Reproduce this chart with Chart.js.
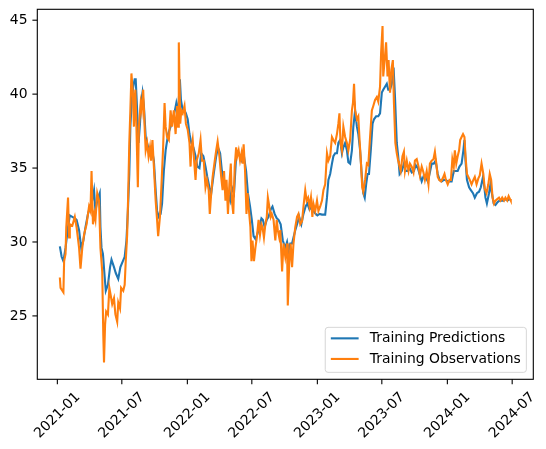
<!DOCTYPE html>
<html><head><meta charset="utf-8">
<script src="https://cdn.jsdelivr.net/npm/chart.js@4.4.0/dist/chart.umd.min.js"></script>
<style>html,body{margin:0;padding:0;background:#fff;} canvas{display:block;}</style>
</head><body>
<canvas id="c" width="546" height="449" style="width:546px;height:449px"></canvas>
<script>
// ---- data ----
const startDate = '2021-01-01';
const seriesLabels = ['Training Predictions', 'Training Observations'];
const xTickLabels = ['2021-01','2021-07','2022-01','2022-07','2023-01','2023-07','2024-01','2024-07'];
const yTickValues = [25, 30, 35, 40, 45];

const predDays = [7,12,17,23,30,35,42,49,54,61,67,73,79,86,92,98,103,107,112,119,121,124,128,133,136,142,148,152,159,164,171,177,184,189,194,198,202,205,209,213,217,220,224,228,232,235,239,243,248,252,257,262,266,271,276,280,285,290,294,299,304,311,318,324,330,334,339,344,347,352,357,361,366,371,376,382,388,393,399,404,410,416,421,427,432,439,446,451,457,462,468,474,479,485,490,496,502,507,513,518,524,530,535,541,546,551,556,561,567,573,577,582,588,593,599,604,610,616,621,627,633,640,645,649,654,659,663,668,673,679,685,691,697,702,708,714,719,725,730,736,743,748,752,757,761,766,771,775,780,785,789,794,799,803,808,813,817,822,827,831,836,841,845,850,855,859,863,867,871,875,880,885,889,895,901,906,911,915,920,925,929,934,939,944,948,953,957,961,967,973,978,984,989,995,1001,1006,1012,1017,1023,1029,1034,1040,1045,1051,1057,1062,1068,1073,1079,1085,1090,1096,1101,1107,1113,1118,1124,1129,1135,1140,1143,1146,1150,1156,1161,1167,1172,1178,1184,1189,1195,1199,1202,1206,1212,1216,1220,1225,1230,1236,1242,1247,1253,1258,1264,1270];
const predValues = [29.7,29.0,28.7,29.6,31.0,31.8,31.7,31.6,31.5,30.8,29.6,30.1,31.0,31.9,32.4,32.8,33.5,32.1,32.8,33.3,31.0,29.6,29.2,27.6,26.7,27.1,28.3,28.8,28.3,27.9,27.5,28.3,28.7,29.0,30.1,32.1,34.6,37.8,39.6,40.5,41.0,41.0,38.9,36.7,38.0,39.4,40.1,39.2,37.1,36.7,36.2,36.4,36.2,35.5,33.5,32.1,31.7,31.9,32.6,34.8,36.2,37.3,37.8,38.3,38.9,39.4,38.7,41.0,39.6,38.9,38.9,38.7,38.3,37.3,36.7,36.4,35.8,35.1,35.0,36.0,35.8,35.1,34.4,33.7,33.3,34.6,35.8,36.4,36.0,34.8,33.9,33.7,33.3,32.8,33.7,33.3,35.8,36.0,35.8,35.5,35.8,34.8,33.3,32.4,31.5,30.4,30.2,30.5,31.0,31.6,31.5,31.0,31.5,31.7,32.2,32.4,31.9,31.6,31.5,31.2,30.1,29.6,30.0,29.4,29.9,29.9,30.3,30.8,31.2,31.7,31.2,31.9,32.4,32.6,32.2,32.4,32.1,31.9,31.8,31.9,31.85,31.85,31.85,33.0,34.2,34.6,35.3,35.8,36.0,36.0,36.7,36.9,36.0,36.4,36.7,36.2,35.4,35.3,36.2,37.8,38.9,37.8,37.3,36.2,34.4,33.3,33.0,33.9,34.6,34.6,36.2,38.0,38.3,38.5,38.5,38.7,40.1,40.3,40.5,40.7,40.3,40.3,40.7,41.8,39.8,36.7,35.8,34.6,34.8,35.3,34.8,34.8,35.0,34.7,34.8,35.2,35.0,34.6,34.1,34.5,34.4,34.1,34.6,35.3,35.3,35.5,34.6,34.2,34.1,34.2,34.2,34.1,34.1,34.1,34.8,34.8,34.8,35.1,35.3,36.2,36.9,35.5,34.2,33.7,33.5,33.3,33.0,33.3,33.4,33.7,34.4,33.7,33.0,32.6,33.3,33.9,33.3,32.6,32.5,32.7,32.8,32.8,32.8,32.9,32.8,32.9];

const obsDays = [7,9,17,19,23,25,30,33,35,42,49,54,61,65,70,75,82,89,93,96,100,104,107,112,117,121,126,129,131,134,137,142,146,149,154,159,163,168,171,176,179,185,189,192,196,199,202,205,208,212,215,217,219,222,226,229,234,237,241,245,248,252,256,260,263,267,271,276,280,283,288,292,297,301,304,308,313,318,322,327,332,336,339,341,345,348,352,357,361,366,371,374,376,380,384,388,391,397,402,406,411,416,420,425,428,432,436,442,446,450,455,460,464,468,472,475,479,483,487,490,494,498,502,505,509,513,517,520,523,527,531,534,537,542,545,548,552,556,560,565,569,573,576,580,584,588,591,595,599,602,607,612,616,619,623,626,631,635,640,645,647,651,655,659,663,668,673,677,682,687,691,696,700,704,708,712,716,719,724,729,733,738,743,747,752,757,761,766,771,775,780,785,789,792,795,799,803,808,813,817,822,827,830,833,836,841,845,848,852,856,859,864,869,873,878,883,887,892,897,901,906,909,913,915,919,923,927,930,934,938,942,945,949,953,957,959,964,969,973,976,981,986,990,995,1000,1004,1009,1014,1018,1023,1028,1032,1037,1042,1046,1051,1056,1060,1064,1068,1072,1077,1082,1087,1091,1096,1101,1105,1109,1113,1116,1120,1124,1128,1131,1135,1139,1143,1146,1150,1154,1158,1163,1168,1172,1177,1182,1186,1191,1196,1200,1205,1210,1214,1218,1222,1226,1230,1235,1240,1244,1249,1254,1258,1263,1267,1271,1273];
const obsValues = [27.6,26.9,26.6,28.7,29.2,31.0,33.0,30.3,31.2,31.1,31.7,31.0,29.6,28.2,29.6,30.5,31.2,32.4,32.1,34.8,31.2,31.9,31.5,33.3,32.8,29.6,28.0,23.7,21.85,24.4,25.3,25.1,26.9,26.5,25.8,26.2,25.1,24.6,25.9,25.5,26.9,26.7,27.1,28.7,30.5,33.3,36.7,38.9,41.4,40.1,37.8,39.6,40.3,37.8,33.7,37.8,39.4,38.9,40.3,37.8,36.2,36.7,35.8,36.4,35.5,36.9,35.1,32.8,31.5,30.4,31.7,33.7,36.4,39.4,37.8,37.1,36.9,38.9,37.8,38.9,37.3,39.2,37.8,43.5,38.0,38.9,38.7,39.2,38.0,37.6,36.7,35.1,36.2,36.9,35.5,34.2,35.5,36.0,36.9,35.5,35.5,33.7,34.2,33.5,31.9,33.3,34.4,35.5,36.2,36.8,35.8,34.4,33.5,34.8,32.8,34.2,31.9,33.9,35.3,32.8,31.9,35.1,36.4,35.8,36.2,35.5,36.0,35.3,36.6,34.8,31.9,33.3,32.4,31.0,28.7,30.1,28.7,29.6,30.3,31.5,30.5,31.2,31.0,30.3,31.2,31.7,33.0,32.4,31.7,31.9,31.5,30.1,31.5,30.8,30.3,30.8,28.0,29.9,29.0,29.9,25.7,28.5,29.9,28.3,29.9,31.0,31.7,31.9,31.2,31.4,32.4,33.5,32.8,33.0,32.4,33.0,31.7,32.6,32.1,32.8,32.1,32.4,32.8,33.5,33.9,36.0,35.5,35.8,37.1,36.9,36.7,37.3,38.0,38.7,36.7,36.2,37.8,37.1,36.7,36.2,36.9,38.9,39.4,40.7,38.9,38.3,38.5,37.1,35.5,33.7,33.4,34.2,35.3,35.2,37.1,38.9,39.2,39.6,39.8,39.5,40.5,42.8,44.6,41.2,42.3,43.5,41.2,42.3,40.1,41.7,42.3,39.4,36.7,36.0,35.5,35.3,34.8,35.8,36.1,34.8,35.5,34.8,35.3,35.1,34.7,35.5,35.6,35.1,34.5,35.1,34.7,34.2,34.8,33.9,35.3,35.5,35.6,36.1,35.3,34.4,34.2,34.1,34.3,34.6,34.2,33.9,34.2,34.2,35.6,35.1,36.2,35.3,35.8,36.2,36.9,37.1,37.3,37.1,35.8,34.6,34.4,34.2,33.9,34.2,34.4,33.9,34.3,34.5,35.3,34.6,33.6,33.3,33.9,34.6,34.2,33.0,32.6,32.8,32.9,33.0,32.8,33.0,32.8,33.0,32.8,33.1,32.9,32.8];

// ---- helpers ----
const DAY = 86400000;
const t0 = Date.parse(startDate + 'T00:00:00Z');
const toX = d => t0 + d * DAY;
const pts = (days, vals) => days.map((d, i) => ({x: toX(d), y: vals[i]}));
const tickTimes = xTickLabels.map(s => Date.parse(s + '-01T00:00:00Z'));

const allDays = predDays.concat(obsDays);
const allVals = predValues.concat(obsValues);
const dMin = Math.min(...allDays), dMax = Math.max(...allDays);
const vMin = Math.min(...allVals), vMax = Math.max(...allVals);
const dPad = (dMax - dMin) * 0.05, vPad = (vMax - vMin) * 0.05;

const FS = 13.9;
const FONT = FS + 'px "DejaVu Sans"';
const BLUE = '#1f77b4', ORANGE = '#ff7f0e';

const decor = {
  id: 'decor',
  afterDraw(chart) {
    const {ctx, chartArea: ca, scales} = chart;
    const xs = scales.x, ys = scales.y;
    ctx.save();
    ctx.strokeStyle = '#000';
    ctx.lineWidth = 1.1;
    ctx.strokeRect(ca.left, ca.top, ca.right - ca.left, ca.bottom - ca.top);
    ctx.fillStyle = '#000';
    ctx.font = FONT;
    const tl = 4.9, pad = 4.9;
    // y ticks
    ctx.textAlign = 'right';
    ctx.textBaseline = 'middle';
    yTickValues.forEach(v => {
      const y = ys.getPixelForValue(v);
      ctx.beginPath(); ctx.moveTo(ca.left - tl, y); ctx.lineTo(ca.left, y); ctx.stroke();
      ctx.fillText(String(v), ca.left - tl - pad, y + 0.5);
    });
    // x ticks
    ctx.textAlign = 'center';
    tickTimes.forEach((t, i) => {
      const x = xs.getPixelForValue(t);
      ctx.beginPath(); ctx.moveTo(x, ca.bottom); ctx.lineTo(x, ca.bottom + tl); ctx.stroke();
      const w = ctx.measureText(xTickLabels[i]).width;
      const h = FS * 1.17;
      const cy = ca.bottom + tl + pad + (w + h) * Math.SQRT1_2 / 2;
      ctx.save();
      ctx.translate(x, cy);
      ctx.rotate(-Math.PI / 4);
      ctx.fillText(xTickLabels[i], 0, 0);
      ctx.restore();
    });
    // legend
    const colors = [BLUE, ORANGE];
    const tw = Math.max(...seriesLabels.map(l => ctx.measureText(l).width));
    const bp = 0.4 * FS, hl = 2 * FS, htp = 0.8 * FS, axp = 0.5 * FS;
    const bw = bp + hl + htp + tw + bp, bh = 45;
    const right = ca.right - axp, bottom = ca.bottom - axp;
    const left = right - bw, top = bottom - bh;
    const r = 0.2 * FS;
    ctx.beginPath();
    ctx.moveTo(left + r, top);
    ctx.arcTo(right, top, right, bottom, r);
    ctx.arcTo(right, bottom, left, bottom, r);
    ctx.arcTo(left, bottom, left, top, r);
    ctx.arcTo(left, top, right, top, r);
    ctx.closePath();
    ctx.fillStyle = 'rgba(255,255,255,0.8)';
    ctx.fill();
    ctx.strokeStyle = 'rgba(204,204,204,0.8)';
    ctx.lineWidth = 1;
    ctx.stroke();
    ctx.textAlign = 'left';
    seriesLabels.forEach((lab, i) => {
      const cy = top + 11 + i * 20.6;
      ctx.strokeStyle = colors[i];
      ctx.lineWidth = 2.1;
      ctx.beginPath(); ctx.moveTo(left + bp, cy); ctx.lineTo(left + bp + hl, cy); ctx.stroke();
      ctx.fillStyle = '#000';
      ctx.fillText(lab, left + bp + hl + htp, cy + 0.5);
    });
    ctx.restore();
  }
};

new Chart(document.getElementById('c'), {
  type: 'line',
  data: {
    datasets: [
      {label: seriesLabels[0], data: pts(predDays, predValues), borderColor: BLUE, borderWidth: 2.1, pointRadius: 0, tension: 0, fill: false, order: 1},
      {label: seriesLabels[1], data: pts(obsDays, obsValues), borderColor: ORANGE, borderWidth: 2.1, pointRadius: 0, tension: 0, fill: false, order: 0}
    ]
  },
  options: {
    responsive: false,
    animation: false,
    devicePixelRatio: 1,
    layout: {padding: {top: 9.3, right: 12.7, left: 0, bottom: 0}},
    plugins: {legend: {display: false}, tooltip: {enabled: false}},
    scales: {
      x: {
        type: 'linear',
        min: toX(dMin - dPad), max: toX(dMax + dPad),
        grid: {display: false}, border: {display: false},
        ticks: {display: false},
        afterFit(s) { s.height = 69.7; }
      },
      y: {
        type: 'linear',
        min: vMin - vPad, max: vMax + vPad,
        grid: {display: false}, border: {display: false},
        ticks: {display: false},
        afterFit(s) { s.width = 37.3; }
      }
    }
  },
  plugins: [decor]
});
</script>
</body></html>
